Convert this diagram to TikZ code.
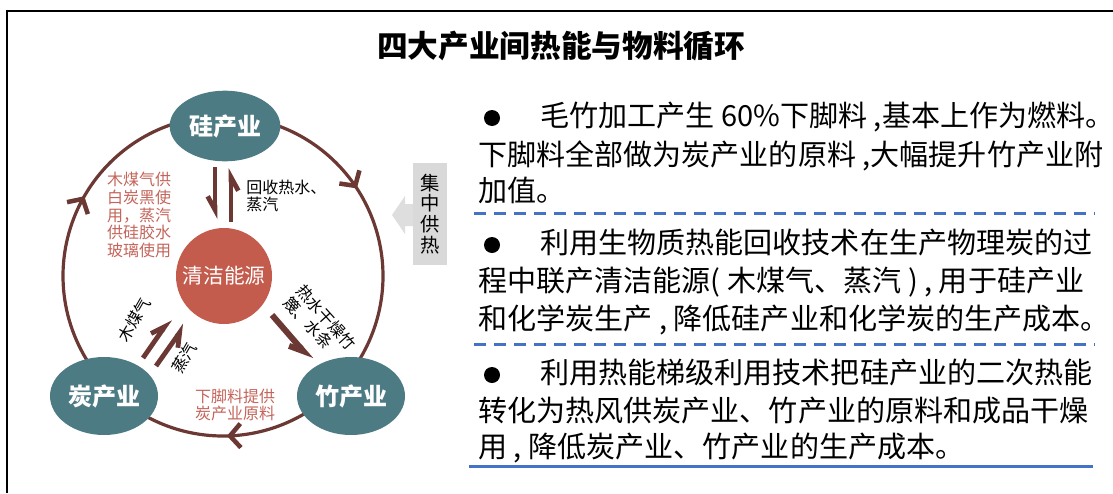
\documentclass[tikz,border=0pt]{standalone}
\usepackage{fontspec}
\setmainfont{Noto Sans CJK SC}
\usetikzlibrary{arrows.meta,decorations.markings,calc,shapes.geometric}
\definecolor{nodeteal}{HTML}{4D7B84}
\definecolor{cleanred}{HTML}{C45C4D}
\definecolor{arcbrown}{HTML}{6B3833}
\definecolor{labelred}{HTML}{C4645A}
\definecolor{lineblue}{HTML}{4472C4}
\definecolor{boxgray}{HTML}{D9D9D9}
\definecolor{arrowgray}{HTML}{DEDEDE}
\begin{document}
\begin{tikzpicture}[x=0.75pt,y=-0.75pt,
  industry/.style={ellipse, fill=nodeteal, text=white, inner sep=0pt,
    font=\bfseries\fontsize{18pt}{18pt}\selectfont},
  cleannode/.style={circle, fill=cleanred, text=white, inner sep=0pt, minimum size=72pt,
    font=\fontsize{15.5pt}{15.5pt}\selectfont},
  arcline/.style={draw=arcbrown, line width=2.4pt},
  arcarrow/.style={postaction={decorate}, decoration={markings,
    mark=at position #1 with {\arrow{Straight Barb[length=8pt,width=18pt,line width=3.4pt]}}}},
  harp/.style={draw=arcbrown, line width=3.6pt,
    -{Straight Barb[harpoon,swap,length=10pt,width=11pt]}},
  harpL/.style={draw=arcbrown, line width=3.6pt,
    -{Straight Barb[harpoon,length=10pt,width=11pt]}},
  smalllabel/.style={inner sep=0pt, align=left, font=\fontsize{12pt}{13pt}\selectfont},
  redlabel/.style={inner sep=0pt, align=center, text=labelred, font=\fontsize{12pt}{13.2pt}\selectfont},
  rtext/.style={anchor=west, inner sep=0pt, text height=0.88em, text depth=0.12em,
    font=\fontsize{21.8pt}{21.8pt}\selectfont},
  bulletdot/.style={circle, fill=black, inner sep=0pt, minimum size=12pt},
  dashline/.style={draw=lineblue, line width=2.25pt, dash pattern=on 9pt off 6pt},
]
\useasboundingbox (0,0) rectangle (1113,493);
% frame
\draw[line width=2pt] (7,493) -- (7,11) -- (1113,11);
% title
\node[font=\bfseries\fontsize{23pt}{23pt}\selectfont] (title) at (561,46) {四大产业间热能与物料循环};

% cycle arcs
\coordinate (C) at (223,276);
\path[arcline, arcarrow=0.59] ($(C)+(145:160)$) arc[start angle=145, end angle=255, radius=160];
\path[arcline, arcarrow=0.38] ($(C)+(285:160)$) arc[start angle=285, end angle=395, radius=160];
\path[arcline, arcarrow=0.48] ($(C)+(55:160)$) arc[start angle=55, end angle=125, radius=160];

% industry nodes
\node[industry, minimum width=83pt, minimum height=53pt] (si) at (225,126) {硅产业};
\node[industry, minimum width=81pt, minimum height=58.5pt] (tan) at (104,396) {炭产业};
\node[industry, minimum width=81pt, minimum height=58.5pt] (zhu) at (351,396) {竹产业};
\node[cleannode] (clean) at (224,276) {清洁能源};

% arrows between silicon and clean energy
\coordinate (a1s) at (215,167); \coordinate (a1e) at (215,219);
\coordinate (a2s) at (231,222); \coordinate (a2e) at (231,168);
\draw[harp] (a1s) -- (a1e);
\draw[harp] (a2s) -- (a2e);
\node[smalllabel, anchor=west] (recov) at (246,196) {回收热水、\\蒸汽};

% arrows between carbon and clean energy
\coordinate (b1s) at (143,358); \coordinate (b1e) at (170,319);
\coordinate (b2s) at (156,366); \coordinate (b2e) at (185,325);
\draw[harpL] (b1s) -- (b1e);
\draw[harp] (b2s) -- (b2e);
\node[smalllabel, rotate=60] (gas) at (134,320) {木煤气};
\node[smalllabel, rotate=60] (steam) at (184,358) {蒸汽};

% arrow clean energy -> bamboo
\coordinate (c1s) at (272,315); \coordinate (c1e) at (311,360);
\draw[harp, line width=4.5pt] (c1s) -- (c1e);
\node[smalllabel, rotate=-48] (dry) at (320,323) {热水干燥竹\\篾、水条};

% red labels
\node[redlabel] (supply) at (139,215) {木煤气供\\白炭黑使\\用，蒸汽\\供硅胶水\\玻璃使用};
\node[redlabel] (scrap) at (235,405) {下脚料提供\\炭产业原料};

% central heating box and arrow
\fill[arrowgray] (415,204) -- (405,204) -- (405,196) -- (392,215) -- (405,234) -- (405,226) -- (415,226) -- cycle;
\node[fill=boxgray, minimum width=25.5pt, minimum height=76.5pt, inner sep=0pt, align=center,
  font=\fontsize{14.5pt}{15.6pt}\selectfont] (heat) at (430,214) {集\\中\\供\\热};

% right text
\node[bulletdot] (d1) at (492,118) {};
\node[rtext] (t11) at (540,121) {毛竹加工产生 60\%下脚料 ,基本上作为燃料。};
\node[rtext] (t12) at (478,160) {下脚料全部做为炭产业的原料 ,大幅提升竹产业附};
\node[rtext] (t13) at (478,196) {加值。};
\coordinate (l1a) at (474,213); \coordinate (l1b) at (1095,213);
\draw[dashline] (l1a) -- (l1b);

\node[bulletdot] (d2) at (492,245) {};
\node[rtext] (t21) at (540,248) {利用生物质热能回收技术在生产物理炭的过};
\node[rtext] (t22) at (478,286) {程中联产清洁能源( 木煤气、蒸汽 ) , 用于硅产业};
\node[rtext] (t23) at (478,324) {和化学炭生产 , 降低硅产业和化学炭的生产成本。};
\coordinate (l2a) at (474,344); \coordinate (l2b) at (1095,344);
\draw[dashline] (l2a) -- (l2b);

\node[bulletdot] (d3) at (492,375) {};
\node[rtext] (t31) at (540,378) {利用热能梯级利用技术把硅产业的二次热能};
\node[rtext] (t32) at (478,416) {转化为热风供炭产业、竹产业的原料和成品干燥};
\node[rtext] (t33) at (478,452) {用 , 降低炭产业、竹产业的生产成本。};
\coordinate (l3a) at (469,466); \coordinate (l3b) at (1093,466);
\draw[draw=lineblue, line width=2.25pt] (l3a) -- (l3b);
\end{tikzpicture}
\end{document}
